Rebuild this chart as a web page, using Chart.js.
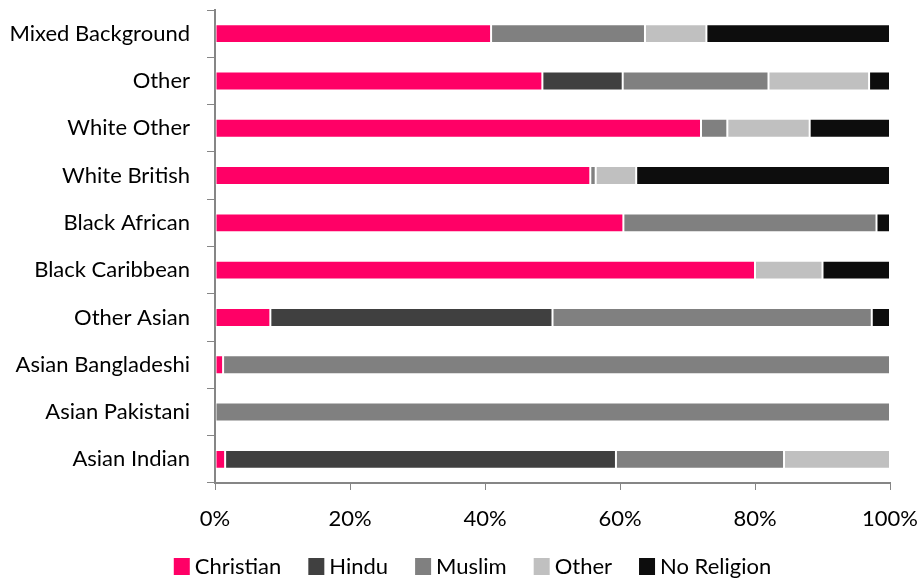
<!DOCTYPE html>
<html lang="en">

<head>
    <meta charset="UTF-8">
    <title>Religion by ethnic group</title>
    <script src="https://cdn.jsdelivr.net/npm/chart.js"></script>
    <style>
        html, body { margin: 0; padding: 0; background: #fff; }
        .card { width: 923px; height: 581px; }
    </style>
</head>

<body>
    <div class="card">
        <canvas id="myChart" width="923" height="581"></canvas>
    </div>

<script>
    // categorias de cima para baixo
    const grupos = ['Mixed Background', 'Other', 'White Other', 'White British', 'Black African',
        'Black Caribbean', 'Other Asian', 'Asian Bangladeshi', 'Asian Pakistani', 'Asian Indian'];

    // percentagens por religião, mesma ordem dos grupos
    const christian  = [40.9, 48.5, 72.0, 55.6, 60.5, 80.0,  8.2,  1.2,   0,  1.5];
    const hindu      = [   0, 11.9,    0,    0,    0,    0, 41.8,    0,   0, 57.9];
    const muslim     = [22.8, 21.6,  3.9,  0.8, 37.5,    0, 47.3, 98.8, 100, 24.9];
    const other      = [ 9.1, 14.9, 12.2,  6.0,    0, 10.0,    0,    0,   0, 15.7];
    const noReligion = [27.2,  3.1, 11.9, 37.6,  2.0, 10.0,  2.7,    0,   0,    0];

    const xTicks = [0, 20, 40, 60, 80, 100];

    const corEixo = '#868686';
    const fonte = { family: 'Lato', size: 22 };

    function serie(label, data, cor) {
        return {
            label: label,
            data: data,
            backgroundColor: cor,
            borderColor: 'rgba(255,255,255,0.3)',
            borderWidth: 1,
            borderSkipped: false,
            barPercentage: 0.4,
            categoryPercentage: 1
        };
    }

    // legenda desenhada à mão: quadrado + texto, tudo numa linha
    const legendaBaixo = {
        id: 'legendaBaixo',
        afterDraw(chart) {
            const c = chart.ctx;
            const caixa = 16, gapTexto = 5, gapItem = 27;
            c.save();
            c.font = '22px Lato';
            c.textBaseline = 'middle';
            c.fillStyle = '#000';
            const itens = chart.data.datasets.map(d => ({
                label: d.label, cor: d.backgroundColor, w: c.measureText(d.label).width
            }));
            let total = 0;
            itens.forEach((it, i) => { total += caixa + gapTexto + it.w + (i ? gapItem : 0); });
            let x = chart.width / 2 + 11 - total / 2;
            const y = 566;
            itens.forEach(it => {
                c.fillStyle = it.cor;
                c.fillRect(x, y - 8, caixa, 17);
                c.fillStyle = '#000';
                c.fillText(it.label, x + caixa + gapTexto, y + 1);
                x += caixa + gapTexto + it.w + gapItem;
            });
            c.restore();
        }
    };

    var ctx1 = document.getElementById('myChart').getContext('2d');
    var myChart = new Chart(ctx1, {
        type: 'bar',
        data: {
            labels: grupos,
            datasets: [
                serie('Christian', christian, '#FF0066'),
                serie('Hindu', hindu, '#404040'),
                serie('Muslim', muslim, '#808080'),
                serie('Other', other, '#C0C0C0'),
                serie('No Religion', noReligion, '#0D0D0D')
            ]
        },
        plugins: [legendaBaixo],
        options: {
            indexAxis: 'y',
            responsive: false,
            animation: false,
            layout: { padding: { top: 10, right: 33, left: 0, bottom: 48 } },
            plugins: {
                tooltip: { enabled: false },
                legend: { display: false }
            },
            scales: {
                x: {
                    stacked: true,
                    min: 0,
                    max: 100,
                    afterBuildTicks: function (eixo) {
                        eixo.ticks = xTicks.map(v => ({ value: v }));
                    },
                    afterFit: function (eixo) {
                        eixo.height = 50;
                        eixo.paddingLeft = 0;
                        eixo.paddingRight = 0;
                    },
                    ticks: {
                        color: '#000',
                        font: fonte,
                        padding: 16,
                        callback: v => v + '%'
                    },
                    grid: { drawOnChartArea: false, drawTicks: true, tickLength: 7, color: corEixo },
                    border: { color: corEixo, width: 2 }
                },
                y: {
                    stacked: true,
                    afterFit: function (eixo) {
                        eixo.width = 215;
                        eixo.paddingTop = 0;
                        eixo.paddingBottom = 0;
                    },
                    ticks: { color: '#000', font: fonte, padding: 17 },
                    grid: { offset: true, drawOnChartArea: false, drawTicks: true, tickLength: 8, color: corEixo },
                    border: { color: corEixo, width: 2 }
                }
            }
        }
    });
</script>
</body>

</html>
